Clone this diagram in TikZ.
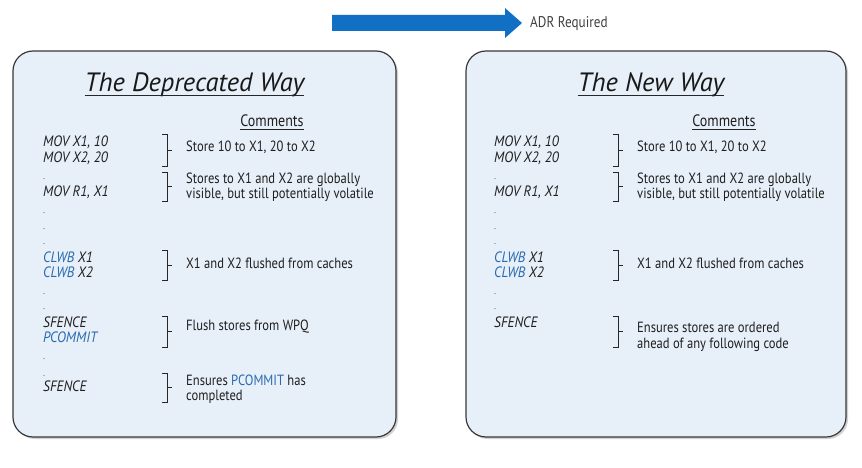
\documentclass[tikz,border=0pt]{standalone}
\usepackage{fontspec}
\setmainfont{PT Sans}
\newfontfamily\comfont[FakeStretch=0.85]{PT Sans}
\newfontfamily\codefont[FakeStretch=0.9]{PT Sans}
\begin{document}
\begin{tikzpicture}[x=1pt,y=-1pt,
  panel/.style={draw=black!78,line width=1.2pt,fill=panelfill,rounded corners=20pt},
  shadowbox/.style={fill=black!18,rounded corners=20pt},
  titletext/.style={inner sep=0pt,anchor=base,font=\fontsize{26.5}{26.5}\selectfont\itshape,text=black!90},
  headtext/.style={inner sep=0pt,anchor=base,font=\comfont\fontsize{16.5}{16.5}\selectfont,text=black!88},
  codetext/.style={inner sep=0pt,anchor=base west,font=\codefont\fontsize{15}{15}\selectfont\itshape,text=black!88},
  comtext/.style={inner sep=0pt,anchor=base west,font=\comfont\fontsize{14.8}{14.8}\selectfont,text=black!88},
  dottext/.style={inner sep=0pt,anchor=base west,font=\fontsize{9}{9}\selectfont,text=black!70},
  brkline/.style={draw=black!85,line width=1pt},
  uline/.style={draw=black!85,line width=0.8pt},
  arrowfill/.style={fill=arrowblue,draw=none}]
\definecolor{panelfill}{HTML}{E7F0F9}
\definecolor{arrowblue}{HTML}{1170C4}
\definecolor{kwblue}{HTML}{2A6AAE}
\newcommand\kw[1]{\textcolor{kwblue}{#1}}
\newcommand\Brk[3]{%
  \draw[brkline] (#1-5,#2) -- (#1,#2) -- (#1,#3) -- (#1-5,#3);
  \draw[brkline] (#1,{(#2+#3)/2}) -- (#1+5,{(#2+#3)/2});}
\useasboundingbox (0,0) rectangle (862,468);
% arrow
\path[arrowfill] (332,15) -- (505,15) -- (505,8) -- (522,23) -- (505,38) -- (505,31) -- (332,31) -- cycle;
\node[inner sep=0pt,anchor=west,font=\comfont\fontsize{15.5}{15.5}\selectfont,text=black!75] (adr) at (530,24) {ADR Required};
% ---------- left panel ----------
\fill[shadowbox] (15,53) rectangle (398,439);
\draw[panel] (13,51) rectangle (396,437);
\node[titletext] (lt) at (194.5,92) {The Deprecated Way};
\draw[uline] ([yshift=-3pt]lt.base west) -- ([yshift=-3pt]lt.base east);
\node[headtext] (lc) at (272,127) {Comments};
\draw[uline,line width=0.6pt] ([yshift=-2pt]lc.base west) -- ([yshift=-2pt]lc.base east);
\node[codetext] (l1) at (43,146.5) {MOV X1, 10};
\node[codetext] (l2) at (43,162.5) {MOV X2, 20};
\node[dottext] (l3) at (43,179) {.};
\node[codetext] (l4) at (43,196.5) {MOV R1, X1};
\node[dottext] (l5) at (43,213) {.};
\node[dottext] (l6) at (43,229) {.};
\node[dottext] (l7) at (43,244) {.};
\node[codetext] (l8) at (43,262.5) {\kw{CLWB} X1};
\node[codetext] (l9) at (43,277.5) {\kw{CLWB} X2};
\node[dottext] (l10) at (43,294) {.};
\node[dottext] (l11) at (43,309) {.};
\node[codetext] (l12) at (43,327.5) {SFENCE};
\node[codetext] (l13) at (43,342.5) {\kw{PCOMMIT}};
\node[dottext] (l14) at (43,359) {.};
\node[dottext] (l15) at (43,376) {.};
\node[codetext] (l16) at (43,391.5) {SFENCE};
\Brk{167}{135}{166}
\Brk{167}{172}{201}
\Brk{167}{250}{280}
\Brk{167}{316}{347}
\Brk{167}{373}{402}
\node[comtext] (lc1) at (186,151.5) {Store 10 to X1, 20 to X2};
\node[comtext] (lc2) at (186,183.5) {Stores to X1 and X2 are globally};
\node[comtext] (lc3) at (186,198.5) {visible, but still potentially volatile};
\node[comtext] (lc4) at (186,268.5) {X1 and X2 flushed from caches};
\node[comtext] (lc5) at (186,330.5) {Flush stores from WPQ};
\node[comtext] (lc6) at (186,385.5) {Ensures \kw{PCOMMIT} has};
\node[comtext] (lc7) at (186,400.5) {completed};
% ---------- right panel ----------
\fill[shadowbox] (468,53) rectangle (848,439);
\draw[panel] (466,51) rectangle (846,437);
\node[titletext] (rt) at (651,92) {The New Way};
\draw[uline] ([yshift=-3pt]rt.base west) -- ([yshift=-3pt]rt.base east);
\node[headtext] (rc) at (724,127) {Comments};
\draw[uline,line width=0.6pt] ([yshift=-2pt]rc.base west) -- ([yshift=-2pt]rc.base east);
\node[codetext] (r1) at (494,146.5) {MOV X1, 10};
\node[codetext] (r2) at (494,162.5) {MOV X2, 20};
\node[dottext] (r3) at (494,179) {.};
\node[codetext] (r4) at (494,196.5) {MOV R1, X1};
\node[dottext] (r5) at (494,213) {.};
\node[dottext] (r6) at (494,229) {.};
\node[dottext] (r7) at (494,244) {.};
\node[codetext] (r8) at (494,262.5) {\kw{CLWB} X1};
\node[codetext] (r9) at (494,277.5) {\kw{CLWB} X2};
\node[dottext] (r10) at (494,294) {.};
\node[dottext] (r11) at (494,309) {.};
\node[codetext] (r12) at (494,327.5) {SFENCE};
\Brk{618}{135}{166}
\Brk{618}{172}{201}
\Brk{618}{250}{280}
\Brk{618}{316}{347}
\node[comtext] (rc1) at (637,151.5) {Store 10 to X1, 20 to X2};
\node[comtext] (rc2) at (637,183.5) {Stores to X1 and X2 are globally};
\node[comtext] (rc3) at (637,198.5) {visible, but still potentially volatile};
\node[comtext] (rc4) at (637,268.5) {X1 and X2 flushed from caches};
\node[comtext] (rc5) at (637,332.5) {Ensures stores are ordered};
\node[comtext] (rc6) at (637,348.5) {ahead of any following code};
\end{tikzpicture}
\end{document}
